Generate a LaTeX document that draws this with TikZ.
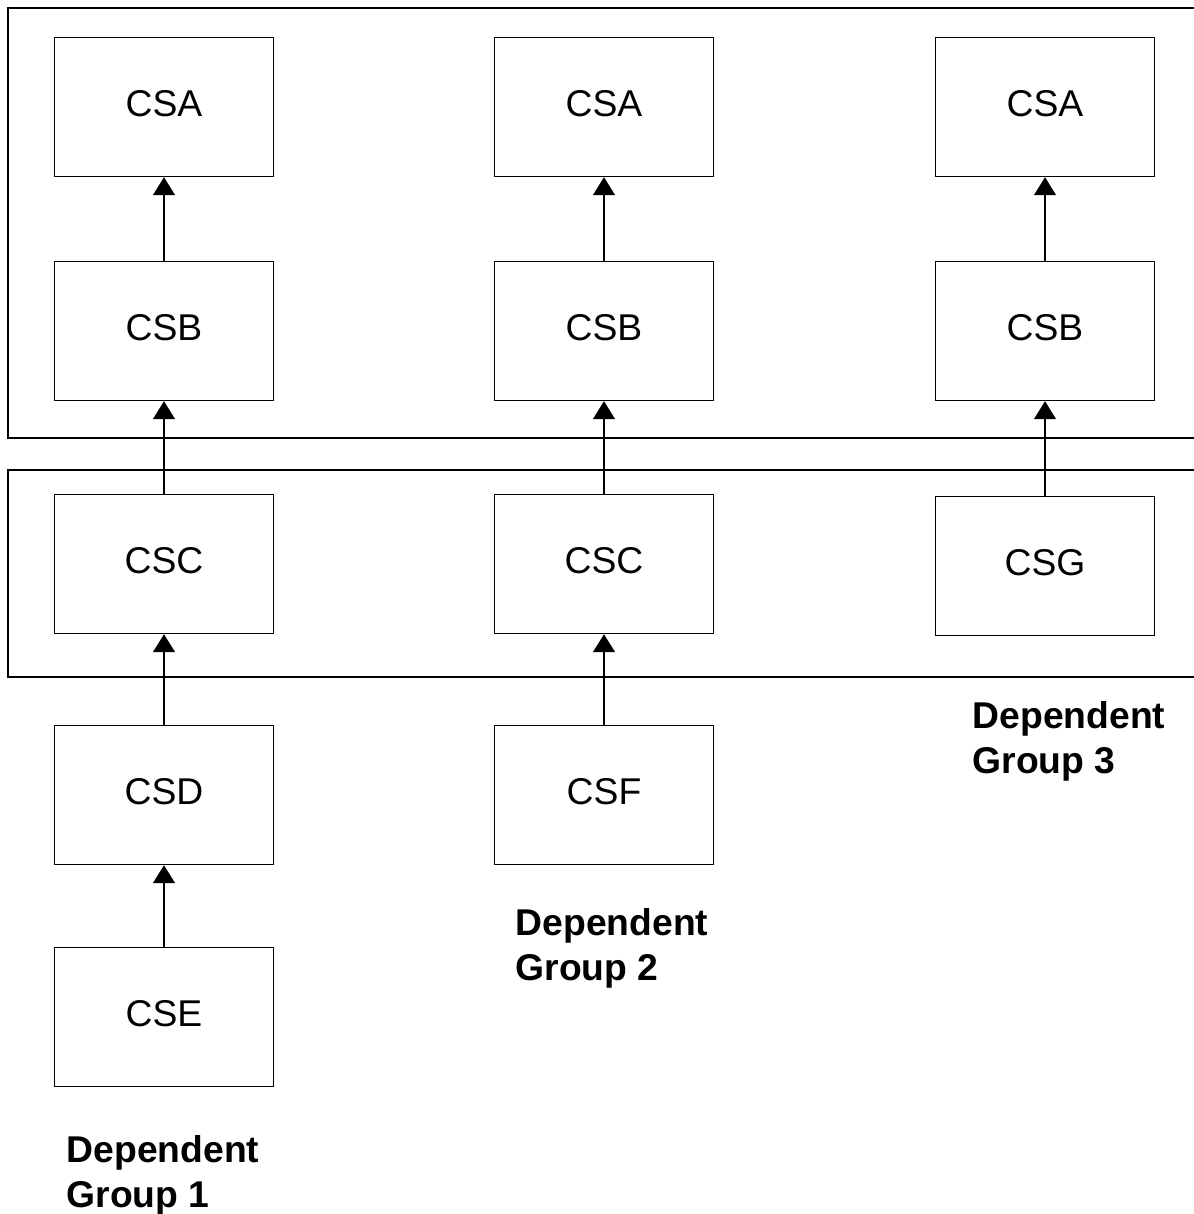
\documentclass[tikz,border=0pt]{standalone}
\usepackage{fontspec}
\setmainfont{Liberation Sans}
\usetikzlibrary{arrows.meta}

\tikzset{
  csbox/.style={draw,line width=1pt,minimum width=5.475cm,minimum height=3.475cm,inner sep=0pt,
    text height=0.67cm,text depth=0.2cm,font=\fontsize{26.5}{32}\selectfont},
  grouplabel/.style={anchor=north west,align=left,inner sep=0pt,
    font=\fontsize{26.5}{32}\selectfont\bfseries},
  dep/.style={line width=1pt,-{Triangle[width=0.55cm,length=0.45cm]}}
}

\begin{document}
\begin{tikzpicture}[x=0.025cm,y=-0.025cm,line width=1pt]
\useasboundingbox (0,0) rectangle (1194,1214);
% frames, open to the right
\draw (1194,8) -- (8,8) -- (8,438) -- (1194,438);
\draw (1194,470) -- (8,470) -- (8,677) -- (1194,677);
% column 1
\node[csbox] (a1) at (164,107) {CSA};
\node[csbox] (b1) at (164,331) {CSB};
\node[csbox] (c1) at (164,564) {CSC};
\node[csbox] (d1) at (164,795) {CSD};
\node[csbox] (e1) at (164,1017) {CSE};
% column 2
\node[csbox] (a2) at (604,107) {CSA};
\node[csbox] (b2) at (604,331) {CSB};
\node[csbox] (c2) at (604,564) {CSC};
\node[csbox] (f2) at (604,795) {CSF};
% column 3
\node[csbox] (a3) at (1045,107) {CSA};
\node[csbox] (b3) at (1045,331) {CSB};
\node[csbox] (g3) at (1045,566) {CSG};
% dependencies
\draw[dep] (b1) -- (a1);
\draw[dep] (c1) -- (b1);
\draw[dep] (d1) -- (c1);
\draw[dep] (e1) -- (d1);
\draw[dep] (b2) -- (a2);
\draw[dep] (c2) -- (b2);
\draw[dep] (f2) -- (c2);
\draw[dep] (b3) -- (a3);
\draw[dep] (g3) -- (b3);
% labels
\node[grouplabel] (l1) at (66,1135) {Dependent\\Group 1};
\node[grouplabel] (l2) at (515,908) {Dependent\\Group 2};
\node[grouplabel] (l3) at (972,701) {Dependent\\Group 3};
\end{tikzpicture}
\end{document}
